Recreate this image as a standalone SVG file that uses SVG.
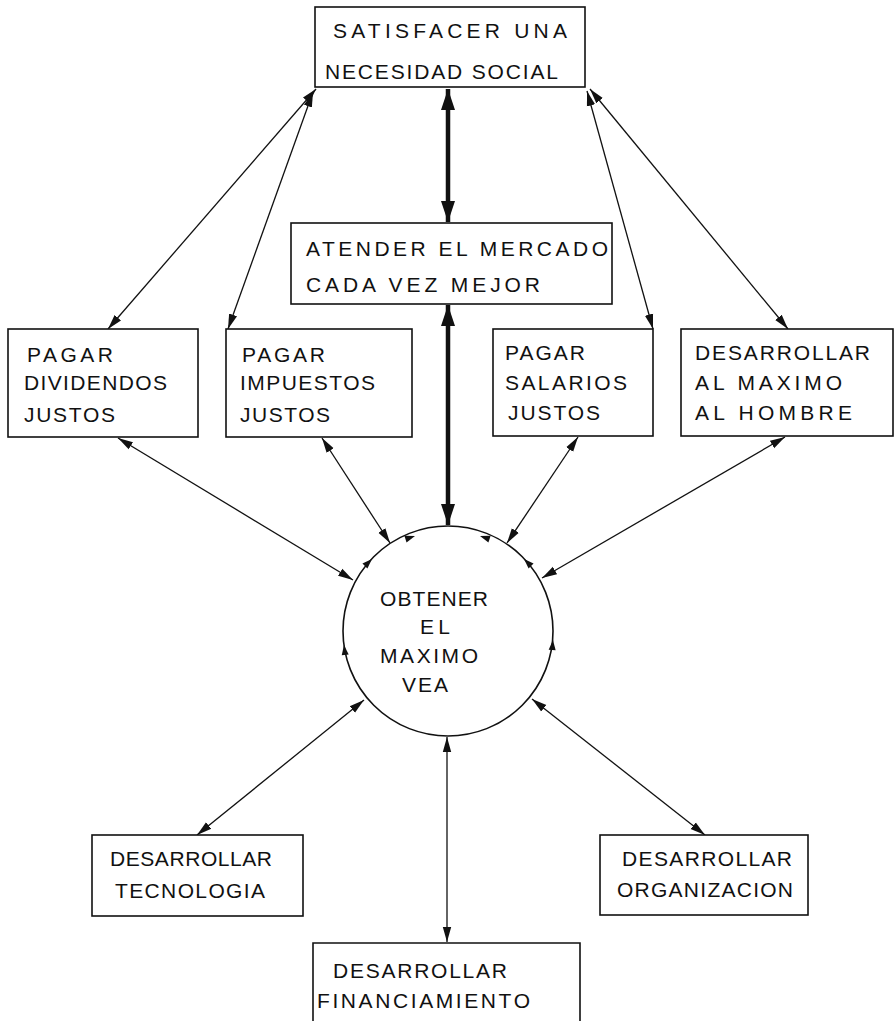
<svg xmlns="http://www.w3.org/2000/svg" width="895" height="1021" viewBox="0 0 895 1021">
<style>
.box{fill:#fff;stroke:#111;stroke-width:1.6}
.t{font-family:"Liberation Sans","DejaVu Sans",sans-serif;font-size:21px;fill:#111}
.c{fill:none;stroke:#111;stroke-width:1.3}
.k{fill:none;stroke:#111;stroke-width:4.5}
.ah{fill:#111}
</style>
<defs>
<marker id="a" markerUnits="userSpaceOnUse" markerWidth="16" markerHeight="10" refX="15" refY="5" orient="auto-start-reverse"><path d="M0,0.8 L15,5 L0,9.2 Z" fill="#111"/></marker>
<marker id="b" markerUnits="userSpaceOnUse" markerWidth="22" markerHeight="16" refX="21" refY="8" orient="auto-start-reverse"><path d="M0,1 L21,8 L0,15 Z" fill="#111"/></marker>
<path id="sa" d="M0,0 L-10,-3.5 L-10,3.5 Z"/>
</defs>
<g id="connectors">
<line class="c" x1="108" y1="329" x2="316" y2="89" marker-start="url(#a)" marker-end="url(#a)"/>
<line class="c" x1="228" y1="329" x2="313" y2="92" marker-start="url(#a)" marker-end="url(#a)"/>
<line class="c" x1="653" y1="329" x2="587" y2="91" marker-start="url(#a)" marker-end="url(#a)"/>
<line class="c" x1="788" y1="329" x2="590" y2="89" marker-start="url(#a)" marker-end="url(#a)"/>
<line class="k" x1="448" y1="89" x2="448" y2="222" marker-start="url(#b)" marker-end="url(#b)"/>
<line class="k" x1="448" y1="305" x2="448" y2="525" marker-start="url(#b)" marker-end="url(#b)"/>
<line class="c" x1="118" y1="438" x2="353" y2="580" marker-start="url(#a)" marker-end="url(#a)"/>
<line class="c" x1="322" y1="438" x2="390" y2="543" marker-start="url(#a)" marker-end="url(#a)"/>
<line class="c" x1="578" y1="437" x2="507" y2="543" marker-start="url(#a)" marker-end="url(#a)"/>
<line class="c" x1="785" y1="437" x2="542" y2="578" marker-start="url(#a)" marker-end="url(#a)"/>
<line class="c" x1="197" y1="835" x2="364" y2="700" marker-start="url(#a)" marker-end="url(#a)"/>
<line class="c" x1="705" y1="835" x2="532" y2="699" marker-start="url(#a)" marker-end="url(#a)"/>
<line class="c" x1="447" y1="737" x2="447" y2="942" marker-start="url(#a)" marker-end="url(#a)"/>
</g>
<g id="n-satisfacer">
<rect class="box" x="315" y="7" width="270" height="80"/>
<text class="t" x="333" y="38" textLength="234" lengthAdjust="spacing">SATISFACER  UNA</text>
<text class="t" x="325" y="79" textLength="233" lengthAdjust="spacing">NECESIDAD  SOCIAL</text>
</g>
<g id="n-atender">
<rect class="box" x="291" y="223" width="321" height="81"/>
<text class="t" x="306" y="256" textLength="302" lengthAdjust="spacing">ATENDER  EL  MERCADO</text>
<text class="t" x="306" y="292" textLength="234" lengthAdjust="spacing">CADA  VEZ  MEJOR</text>
</g>
<g id="n-dividendos">
<rect class="box" x="8" y="329" width="190" height="108"/>
<text class="t" x="27" y="362" textLength="86" lengthAdjust="spacing">PAGAR</text>
<text class="t" x="24" y="390" textLength="143" lengthAdjust="spacing">DIVIDENDOS</text>
<text class="t" x="24" y="422" textLength="91" lengthAdjust="spacing">JUSTOS</text>
</g>
<g id="n-impuestos">
<rect class="box" x="226" y="329" width="186" height="108"/>
<text class="t" x="242" y="362" textLength="83" lengthAdjust="spacing">PAGAR</text>
<text class="t" x="240" y="390" textLength="135" lengthAdjust="spacing">IMPUESTOS</text>
<text class="t" x="240" y="422" textLength="90" lengthAdjust="spacing">JUSTOS</text>
</g>
<g id="n-salarios">
<rect class="box" x="493" y="329" width="160" height="107"/>
<text class="t" x="505" y="360" textLength="80" lengthAdjust="spacing">PAGAR</text>
<text class="t" x="505" y="390" textLength="122" lengthAdjust="spacing">SALARIOS</text>
<text class="t" x="508" y="420" textLength="92" lengthAdjust="spacing">JUSTOS</text>
</g>
<g id="n-hombre">
<rect class="box" x="681" y="329" width="212" height="107"/>
<text class="t" x="695" y="360" textLength="175" lengthAdjust="spacing">DESARROLLAR</text>
<text class="t" x="695" y="390" textLength="147" lengthAdjust="spacing">AL  MAXIMO</text>
<text class="t" x="695" y="420" textLength="157" lengthAdjust="spacing">AL  HOMBRE</text>
</g>
<g id="n-obtener">
<circle cx="448" cy="631" r="105" fill="#fff" stroke="#111" stroke-width="1.6"/>
<g class="ah">
<use href="#sa" transform="translate(415,536) rotate(-18)"/>
<use href="#sa" transform="translate(480,536) rotate(198)"/>
<use href="#sa" transform="translate(372,559) rotate(-45)"/>
<use href="#sa" transform="translate(524,559) rotate(225)"/>
<use href="#sa" transform="translate(344,645) rotate(-97)"/>
<use href="#sa" transform="translate(553,640) rotate(275)"/>
</g>
<text class="t" x="380" y="606" textLength="108" lengthAdjust="spacing">OBTENER</text>
<text class="t" x="420" y="634" textLength="30" lengthAdjust="spacing">EL</text>
<text class="t" x="380" y="663" textLength="98" lengthAdjust="spacing">MAXIMO</text>
<text class="t" x="402" y="692" textLength="46" lengthAdjust="spacing">VEA</text>
</g>
<g id="n-tecnologia">
<rect class="box" x="92" y="835" width="211" height="81"/>
<text class="t" x="110" y="866" textLength="162" lengthAdjust="spacing">DESARROLLAR</text>
<text class="t" x="115" y="898" textLength="150" lengthAdjust="spacing">TECNOLOGIA</text>
</g>
<g id="n-organizacion">
<rect class="box" x="600" y="835" width="208" height="80"/>
<text class="t" x="622" y="866" textLength="170" lengthAdjust="spacing">DESARROLLAR</text>
<text class="t" x="617" y="897" textLength="176" lengthAdjust="spacing">ORGANIZACION</text>
</g>
<g id="n-financiamiento">
<path class="box" d="M313,1021 L313,943 L580,943 L580,1021"/>
<text class="t" x="333" y="978" textLength="174" lengthAdjust="spacing">DESARROLLAR</text>
<text class="t" x="317" y="1008" textLength="213" lengthAdjust="spacing">FINANCIAMIENTO</text>
</g>
</svg>
